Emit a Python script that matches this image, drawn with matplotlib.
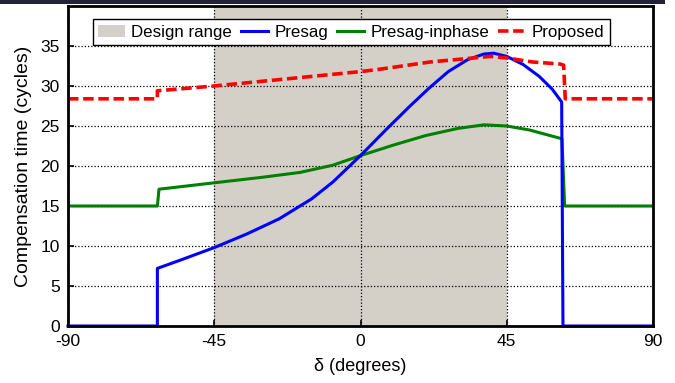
import numpy as np
import matplotlib.pyplot as plt
from matplotlib.patches import Rectangle, Patch

plt.rcParams['font.family'] = ['Liberation Sans', 'DejaVu Sans']
plt.rcParams['axes.unicode_minus'] = False

# Presag (blue)
presag_deg = [-90, -62.5, -62.5, -55, -45, -35, -25, -15, -8.5, 0, 8, 15, 21, 27, 33, 38, 41, 45, 50, 55, 59, 61.9, 62.3, 90]
presag_val = [0, 0, 7.2, 8.3, 9.8, 11.5, 13.4, 15.9, 18.0, 21.3, 24.6, 27.4, 29.7, 31.8, 33.3, 34.0, 34.1, 33.7, 32.7, 31.2, 29.6, 28.0, 0, 0]

# Presag-inphase (green)
inphase_deg = [-90, -62.5, -62, -45, -30, -18.6, -8.5, 0, 10, 20, 30, 38, 45, 52, 62, 62.8, 90]
inphase_val = [15, 15, 17.1, 17.9, 18.6, 19.2, 20.1, 21.3, 22.6, 23.8, 24.7, 25.15, 25.0, 24.5, 23.4, 15, 15]

# Proposed (red dashed)
proposed_deg = [-90, -62.5, -62.5, -45, 0, 6, 21.4, 40, 45, 53, 61.4, 62.5, 63, 90]
proposed_val = [28.4, 28.4, 29.4, 30.0, 31.8, 32.1, 33.0, 33.7, 33.5, 33.0, 32.75, 32.6, 28.4, 28.4]

design_range = (-45, 45)
xticks = [-90, -45, 0, 45, 90]
yticks = [0, 5, 10, 15, 20, 25, 30, 35]

fig = plt.figure(figsize=(6.75, 3.83), dpi=100)
ax = fig.add_axes([68/675, 1 - 326/383, 585/675, 320/383])

ax.axvspan(design_range[0], design_range[1], color='#d4d0c8', zorder=0, lw=0)
ax.plot(presag_deg, presag_val, color='#0000ff', lw=2.2, zorder=4, clip_on=False)
ax.plot(inphase_deg, inphase_val, color='#008000', lw=2.2, zorder=3)
ax.plot(proposed_deg, proposed_val, color='#ff0000', lw=2.6, ls=(0, (2.9, 1.3)), zorder=5)

ax.set_xlim(-90, 90)
ax.set_ylim(0, 40)
ax.set_xticks(xticks)
ax.set_yticks(yticks)
ax.tick_params(direction='in', length=4, width=1.2, labelsize=12.5, pad=6)
ax.grid(True, color='black', ls=(0, (1, 1.6)), lw=0.9)
ax.set_axisbelow(False)
for s in ax.spines.values():
    s.set_linewidth(2)
    s.set_zorder(6)

ax.set_xlabel('δ (degrees)', fontsize=13, labelpad=6)
ax.set_ylabel('Compensation time (cycles)', fontsize=14, labelpad=6)

handles = [Patch(facecolor='#d4d0c8', edgecolor='none'),
           plt.Line2D([], [], color='#0000ff', lw=2.2),
           plt.Line2D([], [], color='#008000', lw=2.2),
           plt.Line2D([], [], color='#ff0000', lw=2.6, ls=(0, (2.9, 1.3)))]
labels = ['Design range', 'Presag', 'Presag-inphase', 'Proposed']
leg = ax.legend(handles, labels, ncol=4, loc='upper center', bbox_to_anchor=(0.484, 0.958),
                fontsize=12.2, handlelength=1.6, handletextpad=0.4, columnspacing=0.5,
                borderpad=0.3, borderaxespad=0, fancybox=False, framealpha=1, edgecolor='black')
leg.get_frame().set_linewidth(1)
leg.set_zorder(10)

# dark strip along the top edge of the screenshot
fig.patches.append(Rectangle((0, 1 - 4/383), 665/675, 4/383, transform=fig.transFigure,
                             facecolor='#22223a', edgecolor='none', zorder=0))

fig.savefig('out.png', dpi=100)
